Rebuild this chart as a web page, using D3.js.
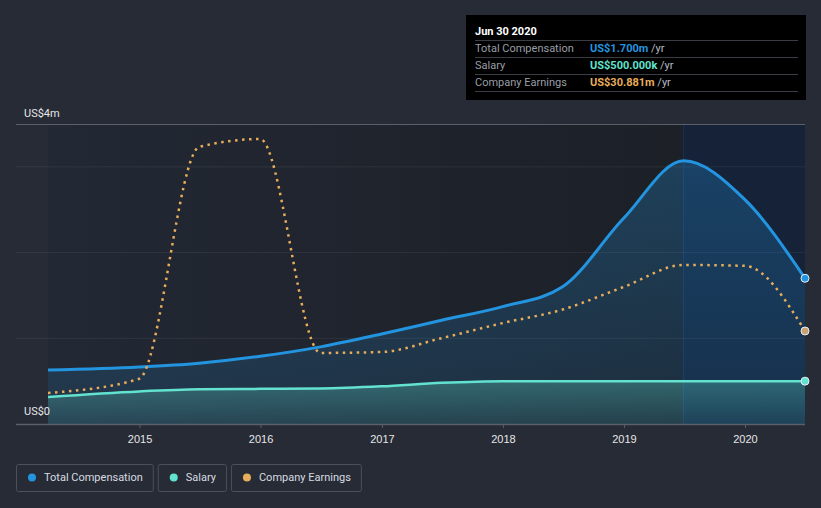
<!DOCTYPE html>
<html><head><meta charset="utf-8">
<script src="https://cdn.jsdelivr.net/npm/d3@7"></script>
<style>
html,body{margin:0;padding:0;background:#262b36;}
svg{display:block;font-family:Roboto, "Noto Sans", sans-serif;}
</style></head>
<body>
<svg id="c" width="821" height="508"></svg>
<script>
// ---- data ----
const dates = ["2014-03-31","2014-12-31","2015-06-30","2015-12-31","2016-06-30","2016-12-31","2017-06-30","2017-12-31","2018-06-30","2018-12-31","2019-06-30","2019-12-31","2020-06-30"];
const totalComp = [0.63,0.665,0.71,0.79,0.90,1.05,1.21,1.37,1.60,2.40,3.07,2.62,1.70];   // US$m
const salary    = [0.315,0.38,0.405,0.41,0.415,0.44,0.48,0.50,0.50,0.50,0.50,0.50,0.50]; // US$m
const earnings  = [10.3,15.0,92.0,94.6,23.6,23.9,28.5,33.5,38.0,45.5,52.8,52.5,30.881];  // US$m
const yearTicks = ["2015","2016","2017","2018","2019","2020"];
const yLabels = ["US$0","US$4m"];
const legendItems = ["Total Compensation","Salary","Company Earnings"];
const tipTitle = "Jun 30 2020";
const tipRows = [["Total Compensation","US$1.700m"],["Salary","US$500.000k"],["Company Earnings","US$30.881m"]];
const colors = ["#2394df","#62e2cf","#e8ad5a"];

const parse = d3.timeParse("%Y-%m-%d");
const D = dates.map(parse);
const svg = d3.select("#c");
const L = 48, R = 805, T = 124, B = 424;

const x = d3.scaleTime().domain(d3.extent(D)).range([L, R]);
const y = d3.scaleLinear().domain([0, 3.5]).range([B, T]);
const yE = d3.scaleLinear().domain([0, 99.6]).range([B, T]);

const defs = svg.append("defs");
const g1 = defs.append("linearGradient").attr("id","plotbg").attr("x1",0).attr("x2",1).attr("y1",0).attr("y2",0);
g1.append("stop").attr("offset",0).attr("stop-color","#222834");
g1.append("stop").attr("offset",1).attr("stop-color","#1b1e24");
const g2 = defs.append("linearGradient").attr("id","compfill").attr("x1",0).attr("x2",0).attr("y1",0).attr("y2",1);
g2.append("stop").attr("offset",0).attr("stop-color","#2394df").attr("stop-opacity",0.28);
g2.append("stop").attr("offset",1).attr("stop-color","#2394df").attr("stop-opacity",0.12);
const g3 = defs.append("linearGradient").attr("id","salfill").attr("x1",0).attr("x2",0).attr("y1",0).attr("y2",1);
g3.append("stop").attr("offset",0).attr("stop-color","#62e2cf").attr("stop-opacity",0.30);
g3.append("stop").attr("offset",1).attr("stop-color","#62e2cf").attr("stop-opacity",0.10);

// plot background
svg.append("rect").attr("x",L).attr("y",T).attr("width",R-L).attr("height",B-T).attr("fill","url(#plotbg)");
// highlight band (last period)
const hx = x(D[D.length-3]);
svg.append("rect").attr("x",hx).attr("y",T).attr("width",R-hx).attr("height",B-T).attr("fill","#15223a").attr("opacity",0.9);
svg.append("line").attr("x1",hx).attr("x2",hx).attr("y1",T).attr("y2",B).attr("stroke","#1b3357").attr("stroke-width",1);

// gridlines
[1,2,3].forEach(v=>{
  svg.append("line").attr("x1",16).attr("x2",R).attr("y1",y(v)).attr("y2",y(v))
    .attr("stroke","#ffffff").attr("stroke-opacity",0.07);
});
svg.append("line").attr("x1",16).attr("x2",R).attr("y1",T+0.5).attr("y2",T+0.5).attr("stroke","#5a5f6a").attr("stroke-width",1);

const data = D.map((d,i)=>({d, c: totalComp[i], s: salary[i], e: earnings[i]}));
const curve = d3.curveMonotoneX;

// areas
svg.append("path").datum(data).attr("fill","url(#compfill)")
  .attr("d", d3.area().curve(curve).x(p=>x(p.d)).y0(B).y1(p=>y(p.c)));
svg.append("path").datum(data).attr("fill","url(#salfill)")
  .attr("d", d3.area().curve(curve).x(p=>x(p.d)).y0(B).y1(p=>y(p.s)));

// lines
svg.append("path").datum(data).attr("fill","none").attr("stroke",colors[1]).attr("stroke-width",2.5)
  .attr("d", d3.line().curve(curve).x(p=>x(p.d)).y(p=>y(p.s)));
svg.append("path").datum(data).attr("fill","none").attr("stroke",colors[0]).attr("stroke-width",3)
  .attr("d", d3.line().curve(curve).x(p=>x(p.d)).y(p=>y(p.c)));
svg.append("path").datum(data).attr("fill","none").attr("stroke",colors[2]).attr("stroke-width",2.5)
  .attr("stroke-dasharray","2.5,4.5")
  .attr("d", d3.line().curve(curve).x(p=>x(p.d)).y(p=>yE(p.e)));

// end dots
const last = data[data.length-1];
[[y(last.c),colors[0]],[y(last.s),colors[1]],[yE(last.e),"#c9a173"]].forEach(([cy,col])=>{
  svg.append("circle").attr("cx",x(last.d)).attr("cy",cy).attr("r",4).attr("fill",col)
    .attr("stroke","#e8eef5").attr("stroke-width",1);
});

// x axis
const xAxis = d3.axisBottom(x)
  .tickValues(yearTicks.map(t=>parse(t+"-01-01")))
  .tickFormat(d3.timeFormat("%Y")).tickSize(4).tickSizeOuter(0);
const ax = svg.append("g").attr("transform",`translate(0,${B})`).call(xAxis);
ax.select(".domain").remove();
ax.selectAll(".tick line").attr("stroke","#5a5f6a");
ax.selectAll(".tick text").attr("fill","#e6e6e6").attr("font-size",11).attr("dy","1.05em");
svg.append("line").attr("x1",16).attr("x2",R).attr("y1",B+0.5).attr("y2",B+0.5).attr("stroke","#5a5f6a").attr("stroke-width",1.5);

// y labels
svg.append("text").attr("x",24).attr("y",117).attr("fill","#e6e6e6").attr("font-size",11).text(yLabels[1]);
svg.append("text").attr("x",24).attr("y",415).attr("fill","#e6e6e6").attr("font-size",11).text(yLabels[0]);

// tooltip
const tip = svg.append("g");
tip.append("rect").attr("x",466).attr("y",15).attr("width",340).attr("height",85).attr("fill","#000");
tip.append("text").attr("x",475).attr("y",35).attr("fill","#fff").attr("font-size",11).attr("font-weight","bold").text(tipTitle);
[40,57,74,91].forEach(ly=>tip.append("line").attr("x1",475).attr("x2",798).attr("y1",ly+0.5).attr("y2",ly+0.5).attr("stroke","#3a3d44"));
tipRows.forEach((r,i)=>{
  const ty = 52 + i*17;
  tip.append("text").attr("x",475).attr("y",ty).attr("fill","#9a9ea6").attr("font-size",11).text(r[0]);
  const t = tip.append("text").attr("x",590).attr("y",ty).attr("font-size",11);
  t.append("tspan").attr("fill",colors[i]).attr("font-weight","bold").text(r[1]);
  t.append("tspan").attr("fill","#b8bcc4").text(" /yr");
});

// legend
const lg = svg.append("g");
let lx = 16;
legendItems.forEach((name,i)=>{
  const item = lg.append("g");
  const txt = item.append("text").attr("x",lx+28).attr("y",481).attr("fill","#d8dbe0").attr("font-size",11).text(name);
  const realW = txt.node().getComputedTextLength();
  const bw = realW + 38;
  item.insert("rect","text").attr("x",lx+0.5).attr("y",464.5).attr("width",bw).attr("height",27).attr("rx",2)
    .attr("fill","none").attr("stroke","#4a505c");
  item.append("circle").attr("cx",lx+16).attr("cy",477.5).attr("r",4).attr("fill",colors[i]);
  lx += bw + 5;
});
</script>
</body></html>
